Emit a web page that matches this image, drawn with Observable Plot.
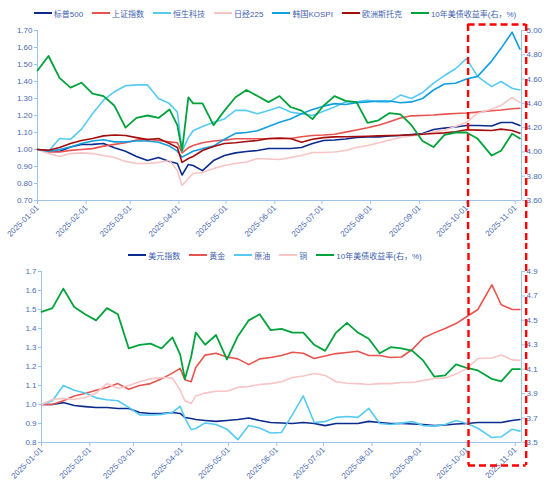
<!DOCTYPE html>
<html><head><meta charset="utf-8">
<script src="https://cdn.jsdelivr.net/npm/d3@7"></script>
<script src="https://cdn.jsdelivr.net/npm/@observablehq/plot@0.6"></script>
<style>
body{margin:0;background:#fff;}
#wrap{position:relative;width:550px;height:486px;overflow:hidden;font-family:"Liberation Sans","Noto Sans CJK SC",sans-serif;}
#wrap svg{position:absolute;left:0;}
.legend{position:absolute;left:0;width:550px;height:14px;display:flex;justify-content:center;align-items:center;gap:9px;font-size:8px;color:#3F5FAE;white-space:nowrap;}
.item{display:flex;align-items:center;}
.sw{display:inline-block;width:18px;height:2px;margin-right:2px;}
</style></head>
<body><div id="wrap"></div>
<script>
// ---------- data ----------
const dates = ["2025-01-01","2025-01-08","2025-01-15","2025-01-22","2025-01-29",
  "2025-02-05","2025-02-12","2025-02-19","2025-02-26",
  "2025-03-05","2025-03-12","2025-03-19","2025-03-26","2025-03-31",
  "2025-04-03","2025-04-07","2025-04-10","2025-04-16","2025-04-23","2025-04-30",
  "2025-05-07","2025-05-14","2025-05-21","2025-05-28",
  "2025-06-04","2025-06-11","2025-06-18","2025-06-25",
  "2025-07-02","2025-07-09","2025-07-16","2025-07-23","2025-07-30",
  "2025-08-06","2025-08-13","2025-08-20","2025-08-27",
  "2025-09-03","2025-09-10","2025-09-17","2025-09-24",
  "2025-10-01","2025-10-08","2025-10-17","2025-10-23","2025-10-30","2025-11-04"];

// top panel (left axis, normalised)
const spx = [1.00,0.994,0.988,1.015,1.029, 1.03,1.035,1.01,0.99, 0.959,0.935,0.953,0.93,0.918, 0.85,0.912,0.906,0.876,0.935,0.965, 0.98,0.988,0.994,1.006, 1.006,1.006,1.012,1.035, 1.053,1.056,1.062,1.071,1.074, 1.074,1.08,1.082,1.088, 1.094,1.118,1.126,1.132, 1.141,1.141,1.138,1.159,1.159, 1.141];
const shcomp = [1.00,0.985,0.985,0.995,1.00, 1.005,1.02,1.03,1.04, 1.055,1.06,1.053,1.045,1.04, 0.98,1.01,1.024,1.04,1.05,1.055, 1.063,1.063,1.063,1.063, 1.063,1.065,1.075,1.082, 1.085,1.09,1.102,1.115,1.128, 1.143,1.163,1.185,1.198, 1.20,1.203,1.208,1.212, 1.215,1.22,1.228,1.232,1.24, 1.243];
const hstech = [1.00,0.99,1.065,1.06,1.12, 1.21,1.29,1.34,1.375, 1.38,1.38,1.30,1.27,1.22, 0.99,1.07,1.11,1.135,1.16,1.18, 1.23,1.23,1.21,1.23, 1.25,1.22,1.21,1.20, 1.225,1.25,1.28,1.28,1.29, 1.28,1.28,1.32,1.30, 1.335,1.39,1.435,1.475, 1.535,1.43,1.37,1.40,1.36, 1.35];
const nikkei = [1.00,0.976,0.959,0.976,0.98, 0.976,0.965,0.953,0.93, 0.918,0.918,0.924,0.935,0.876, 0.788,0.829,0.859,0.865,0.888,0.906, 0.918,0.926,0.947,0.944, 0.941,0.953,0.965,0.982, 0.982,0.985,0.994,1.012,1.024, 1.038,1.056,1.071,1.08, 1.09,1.105,1.115,1.135, 1.16,1.212,1.238,1.259,1.306, 1.276];
const kospi = [1.00,0.99,1.00,1.015,1.035, 1.05,1.057,1.045,1.045, 1.05,1.05,1.043,1.02,0.99, 0.955,0.975,0.99,1.005,1.02,1.06, 1.095,1.10,1.11,1.135, 1.16,1.18,1.21,1.235, 1.255,1.27,1.265,1.275,1.28, 1.285,1.285,1.275,1.28, 1.30,1.35,1.385,1.39, 1.415,1.43,1.52,1.595,1.69, 1.59];
const stoxx = [1.00,0.995,1.012,1.035,1.053, 1.065,1.08,1.085,1.082, 1.07,1.058,1.065,1.035,1.012, 0.924,0.947,0.959,0.994,1.018,1.035, 1.04,1.047,1.053,1.065, 1.068,1.065,1.043,1.06, 1.07,1.074,1.075,1.076,1.078, 1.08,1.082,1.084,1.086, 1.09,1.094,1.098,1.104, 1.116,1.114,1.112,1.12,1.112, 1.096];
// top panel 10Y UST yield (%, right axis)
const ust10Top = [4.67,4.79,4.61,4.53,4.57, 4.48,4.46,4.38,4.20, 4.28,4.30,4.28,4.35,4.22, 4.01,4.45,4.40,4.40,4.22,4.34, 4.45,4.51,4.46,4.41, 4.46,4.37,4.34,4.27, 4.38,4.46,4.42,4.41,4.24, 4.26,4.32,4.31,4.22, 4.09,4.04,4.14,4.16, 4.16,4.11,3.97,4.01,4.15, 4.11];

// bottom panel (left axis, normalised)
const dxy = [1.00,1.00,1.01,0.995,0.989, 0.984,0.984,0.979,0.979, 0.958,0.953,0.953,0.958,0.953, 0.932,0.926,0.921,0.916,0.911,0.916, 0.921,0.929,0.916,0.905, 0.903,0.90,0.905,0.90, 0.889,0.90,0.90,0.90,0.911, 0.905,0.90,0.90,0.897, 0.895,0.889,0.892,0.897, 0.90,0.905,0.905,0.905,0.916, 0.921];
const gold = [1.00,1.00,1.02,1.045,1.058, 1.075,1.09,1.11,1.08, 1.10,1.11,1.135,1.165,1.19, 1.13,1.12,1.195,1.26,1.27,1.25, 1.24,1.21,1.24,1.247, 1.258,1.275,1.27,1.242, 1.255,1.268,1.274,1.28,1.258, 1.258,1.247,1.25,1.29, 1.35,1.377,1.40,1.426, 1.463,1.50,1.63,1.525,1.50, 1.50];
const crude = [1.00,1.02,1.10,1.075,1.06, 1.035,1.025,1.02,0.985, 0.945,0.945,0.948,0.958,0.99, 0.93,0.868,0.874,0.903,0.895,0.87, 0.815,0.889,0.876,0.85, 0.853,0.947,1.045,0.905, 0.91,0.932,0.937,0.932,0.98, 0.90,0.895,0.902,0.91, 0.889,0.886,0.895,0.916, 0.90,0.875,0.826,0.83,0.87, 0.86];
const copper = [1.00,1.026,1.032,1.026,1.037, 1.06,1.11,1.084,1.10, 1.12,1.135,1.142,1.14,1.075, 1.02,1.005,1.045,1.06,1.07,1.07, 1.09,1.095,1.105,1.11, 1.12,1.142,1.15,1.163, 1.153,1.12,1.112,1.11,1.105, 1.11,1.11,1.116,1.116, 1.126,1.137,1.14,1.16, 1.19,1.242,1.245,1.26,1.235, 1.232];
// bottom panel 10Y UST yield (%, right axis)
const ust10Bot = [4.57,4.60,4.76,4.61,4.55, 4.50,4.60,4.55,4.27, 4.30,4.31,4.27,4.36,4.22, 4.02,4.20,4.40,4.30,4.38,4.18, 4.37,4.50,4.55,4.42, 4.43,4.40,4.40,4.30, 4.25,4.40,4.48,4.40,4.35, 4.23,4.28,4.27,4.25, 4.17,4.04,4.05,4.14, 4.11,4.09,4.02,4.00,4.10, 4.10];

// axes / ticks
const topLeftTicks = [0.70,0.80,0.90,1.00,1.10,1.20,1.30,1.40,1.50,1.60,1.70];
const topRightTicks = [3.60,3.80,4.00,4.20,4.40,4.60,4.80,5.00];
const botLeftTicks = [0.8,0.9,1.0,1.1,1.2,1.3,1.4,1.5,1.6,1.7];
const botRightTicks = [3.5,3.7,3.9,4.1,4.3,4.5,4.7,4.9];
const xStart = "2025-01-01", xEnd = "2025-11-05";
const boxStart = "2025-10-02", boxEnd = "2025-11-08";

const topSeries = [
  {name:"标普500", vals: spx, color:"#0B2C8E"},
  {name:"上证指数", vals: shcomp, color:"#E8534F"},
  {name:"恒生科技", vals: hstech, color:"#55CBF3"},
  {name:"日经225", vals: nikkei, color:"#F8C4C4"},
  {name:"韩国KOSPI", vals: kospi, color:"#119FE0"},
  {name:"欧洲斯托克", vals: stoxx, color:"#A40D0D"},
  {name:"10年美债收益率(右，%)", vals: ust10Top, color:"#00A33B", right:true}
];
const botSeries = [
  {name:"美元指数", vals: dxy, color:"#0B2C8E"},
  {name:"黄金", vals: gold, color:"#E8534F"},
  {name:"原油", vals: crude, color:"#55CBF3"},
  {name:"铜", vals: copper, color:"#F8C4C4"},
  {name:"10年美债收益率(右，%)", vals: ust10Bot, color:"#00A33B", right:true}
];

// ---------- drawing ----------
const parse = d3.utcParse("%Y-%m-%d");
const D = dates.map(parse);
const axisCol = "#9DC3E6", textCol = "#4A69B3";
const wrap = document.getElementById("wrap");

function legend(series, top) {
  const div = document.createElement("div");
  div.className = "legend";
  div.style.top = top + "px";
  for (const s of series) {
    const it = document.createElement("span");
    it.className = "item";
    it.innerHTML = `<span class="sw" style="background:${s.color}"></span><span>${s.name}</span>`;
    div.appendChild(it);
  }
  wrap.appendChild(div);
}

function panel(cfg) {
  const {top, height, mt, mb, ml, mr, yDomain, leftTicks, leftFmt, rightTicks, rightFmt, rToL, lToR, series, boxTop, boxBottom} = cfg;
  const x0 = parse(xStart), x1 = parse(xEnd);
  const bs = parse(boxStart), be = parse(boxEnd);
  const months = d3.utcMonth.range(x0, parse("2025-11-02"));
  const fmtDate = d3.utcFormat("%Y-%m-%d");
  const lines = series.map(s => Plot.line(
    D.map((d, i) => ({date: d, v: s.right ? rToL(s.vals[i]) : s.vals[i]})),
    {x: "date", y: "v", stroke: s.color, strokeWidth: s.right ? 1.8 : 1.6}
  ));
  const red = {stroke: "#FF0000", strokeWidth: 2.4, strokeDasharray: "7,4"};
  const svg = Plot.plot({
    width: 550, height,
    marginTop: mt, marginBottom: mb, marginLeft: ml, marginRight: mr,
    style: {fontFamily: '"Liberation Sans", Arial, sans-serif', background: "transparent", overflow: "hidden"},
    x: {type: "utc", domain: [x0, x1]},
    y: {domain: yDomain},
    marks: [
      Plot.ruleY([yDomain[0]], {stroke: axisCol, strokeWidth: 1}),
      Plot.ruleX([x0], {stroke: axisCol, strokeWidth: 1}),
      Plot.ruleX([x1], {stroke: axisCol, strokeWidth: 1}),
      Plot.axisY(leftTicks, {anchor: "left", tickSize: 3, tickPadding: 2, stroke: axisCol, fill: textCol, fontSize: 8, tickFormat: leftFmt, label: null}),
      Plot.axisY(rightTicks.map(rToL), {anchor: "right", tickSize: 3, tickPadding: 2, stroke: axisCol, fill: textCol, fontSize: 8, tickFormat: d => rightFmt(lToR(d)), label: null}),
      Plot.axisX(months, {anchor: "bottom", tickSize: 4, tickPadding: 2, tickRotate: -45, stroke: axisCol, fill: textCol, fontSize: 8, tickFormat: fmtDate, label: null}),
      ...lines,
      Plot.ruleX([bs, be], {y1: boxTop, y2: boxBottom, ...red}),
      ...(cfg.drawTopEdge ? [Plot.ruleY([boxTop], {x1: bs, x2: be, ...red})] : []),
      ...(cfg.drawBottomEdge ? [Plot.ruleY([boxBottom], {x1: bs, x2: be, ...red})] : [])
    ]
  });
  svg.style.top = top + "px";
  wrap.appendChild(svg);
}

const f2 = d3.format(".2f"), f1 = d3.format(".1f");
panel({
  top: 0, height: 243, mt: 30, mb: 43, ml: 37, mr: 29,
  yDomain: [0.70, 1.70], leftTicks: topLeftTicks, leftFmt: f2,
  rightTicks: topRightTicks, rightFmt: f2,
  rToL: r => 0.70 + (r - 3.60) / 1.4, lToR: l => 3.60 + (l - 0.70) * 1.4,
  series: topSeries, boxTop: 1.7353, boxBottom: 0.2, drawTopEdge: true
});
panel({
  top: 243, height: 243, mt: 28, mb: 44, ml: 41, mr: 29,
  yDomain: [0.8, 1.7], leftTicks: botLeftTicks, leftFmt: f1,
  rightTicks: botRightTicks, rightFmt: f1,
  rToL: r => 0.8 + (r - 3.5) * 0.9 / 1.4, lToR: l => 3.5 + (l - 0.8) * 1.4 / 0.9,
  series: botSeries, boxTop: 2.2, boxBottom: 0.679, drawBottomEdge: true
});
legend(topSeries, 6);
legend(botSeries, 248);
</script></body></html>
